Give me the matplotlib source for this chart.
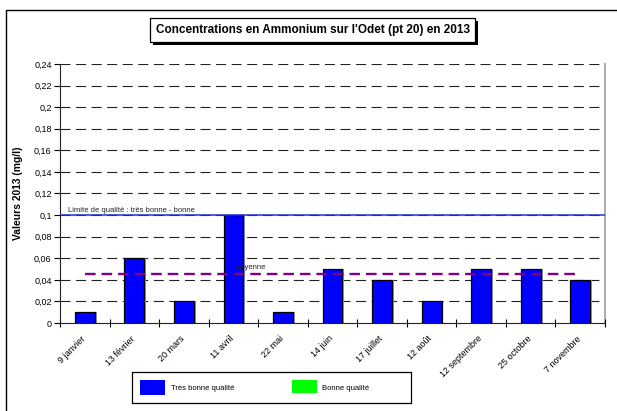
import matplotlib
matplotlib.use("Agg")
import matplotlib.pyplot as plt
import matplotlib.transforms as mtransforms
from matplotlib.patches import Rectangle
import numpy as np

plt.rcParams['font.family'] = ['Liberation Sans', 'DejaVu Sans']

dates = ["9 janvier", "13 février", "20 mars", "11 avril", "22 mai", "14 juin",
         "17 juillet", "12 août", "12 septembre", "25 octobre", "7 novembre"]
valeurs = [0.01, 0.06, 0.02, 0.10, 0.01, 0.05, 0.04, 0.02, 0.05, 0.05, 0.04]
moyenne = 0.045
limite = 0.10
y_ticks = [0, 0.02, 0.04, 0.06, 0.08, 0.10, 0.12, 0.14, 0.16, 0.18, 0.20, 0.22, 0.24]
y_labels = ["0", "0,02", "0,04", "0,06", "0,08", "0,1", "0,12", "0,14", "0,16",
            "0,18", "0,2", "0,22", "0,24"]

W, H = 617, 411
fig = plt.figure(figsize=(W / 100, H / 100), dpi=100)

def fx(px):
    return px / W

def fy(py):
    return 1 - py / H

# outer frame
fig.patches.append(Rectangle((fx(6), fy(425)), fx(640), fy(10) - fy(425),
                             transform=fig.transFigure, fill=False,
                             edgecolor='black', lw=1.0))

ax = fig.add_axes([fx(60), fy(323), fx(605) - fx(60), fy(64) - fy(323)])
n = len(dates)
x = np.arange(n)
ax.set_xlim(-0.5, n - 0.5)
ax.set_ylim(0, 0.24)

# horizontal grid
for t in y_ticks[1:]:
    ax.axhline(t, color='#222222', lw=0.8, dashes=(9, 5), zorder=1)

# bars with a faint shadow
ax.bar(x + 0.04, valeurs, width=0.40, color='#9a9a9a', zorder=2, lw=0)
ax.bar(x, valeurs, width=0.40, color='#0000ff', edgecolor='black', lw=0.9, zorder=3)

# quality limit
ax.axhline(limite, color='#1f2fd6', lw=1.1, zorder=4)
ax.text(-0.33, limite + 0.0012, "Limite de qualité : très bonne - bonne",
        fontsize=5.5, color='#222222', va='bottom', ha='left', zorder=5)

# annual mean
ax.plot([x[0], x[-1]], [moyenne, moyenne], color='#800080', lw=1.7,
        dashes=(4.5, 2.5), zorder=4)
ax.text(3.02, moyenne + 0.0035, "moyenne", fontsize=5.5, color='#222222',
        va='bottom', ha='left', zorder=5)

# spines
for s in ['top', 'right']:
    ax.spines[s].set_visible(False)
ax.spines['left'].set_color('#222222')
ax.spines['bottom'].set_color('#222222')
ax.plot([n - 0.5, n - 0.5], [0, 0.24], color='#b0b0b0', lw=1.5, zorder=1,
        clip_on=False)

ax.set_yticks(y_ticks)
ax.set_yticklabels(y_labels, fontsize=6.5)
ax.tick_params(axis='y', direction='out', length=4, width=0.8, pad=2)

ax.set_xticks(x)
ax.set_xticklabels(dates, rotation=45, ha='right', va='top', fontsize=6.5,
                   rotation_mode='anchor')
ax.tick_params(axis='x', which='major', length=0, pad=8)
shift = mtransforms.ScaledTranslation(-4 / 100, 0, fig.dpi_scale_trans)
for lab in ax.get_xticklabels():
    lab.set_transform(lab.get_transform() + shift)
ax.set_xticks(np.arange(n + 1) - 0.5, minor=True)
ax.tick_params(axis='x', which='minor', direction='inout', length=6, width=0.8)

ax.set_ylabel("Valeurs 2013 (mg/l)", fontsize=7.4, fontweight='bold', labelpad=8)

# title in a box with shadow
fig.patches.append(Rectangle((fx(153), fy(45)), fx(478) - fx(153), fy(21) - fy(45),
                             transform=fig.transFigure, facecolor='black',
                             edgecolor='black', lw=0))
fig.patches.append(Rectangle((fx(150), fy(42)), fx(475) - fx(150), fy(18) - fy(42),
                             transform=fig.transFigure, facecolor='white',
                             edgecolor='black', lw=0.9))
fig.text(fx(313), fy(30.5), "Concentrations en Ammonium sur l'Odet (pt 20) en 2013",
         fontsize=8.5, fontweight='bold', ha='center', va='center')

# legend box
fig.patches.append(Rectangle((fx(132), fy(403)), fx(411) - fx(132), fy(372) - fy(403),
                             transform=fig.transFigure, facecolor='white',
                             edgecolor='black', lw=0.9))
fig.patches.append(Rectangle((fx(140), fy(395)), fx(25), fy(380) - fy(395),
                             transform=fig.transFigure, facecolor='#0000ff',
                             edgecolor='none'))
fig.text(fx(171), fy(388), "Très bonne qualité", fontsize=5.5, ha='left', va='center')
fig.patches.append(Rectangle((fx(292), fy(393)), fx(25), fy(380) - fy(393),
                             transform=fig.transFigure, facecolor='#00ff00',
                             edgecolor='none'))
fig.text(fx(322), fy(388), "Bonne qualité", fontsize=5.5, ha='left', va='center')

fig.savefig("out.png", dpi=100)
